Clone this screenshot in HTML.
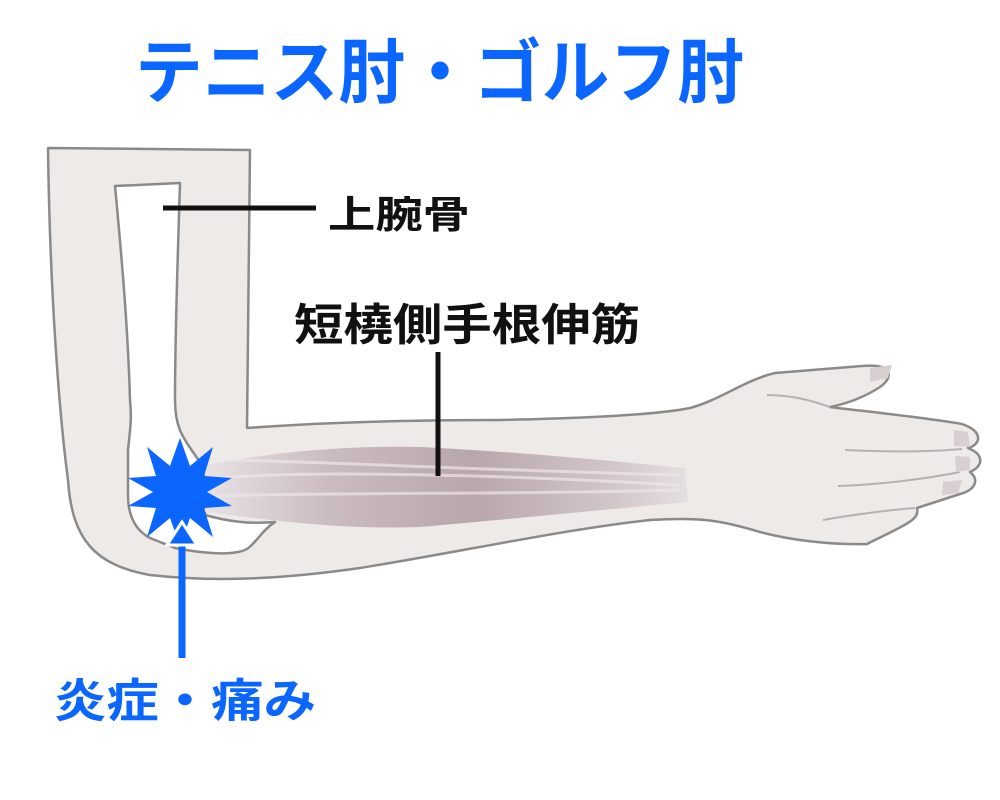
<!DOCTYPE html>
<html><head><meta charset="utf-8"><style>
html,body{margin:0;padding:0;background:#fff;}
svg{display:block;}
text{font-family:"Liberation Sans","Noto Sans CJK JP",sans-serif;font-weight:bold;}
</style></head><body>
<svg width="1000" height="800" viewBox="0 0 1000 800">
<defs>
<linearGradient id="mg" x1="205" y1="0" x2="690" y2="0" gradientUnits="userSpaceOnUse">
<stop offset="0" stop-color="#e8e2e4"/>
<stop offset="0.25" stop-color="#cbbcc2"/>
<stop offset="0.55" stop-color="#b9a6ad"/>
<stop offset="0.85" stop-color="#d3c7cb"/>
<stop offset="1" stop-color="#e6e0e2"/>
</linearGradient>
</defs>
<path d="M48,148 L250,150 L247,428 C300,424 380,420 500,420 C600,418 660,414 690,408 C720,400 745,380 775,373 L862,366 C895,363 893,378 880,387 C860,400 840,405 830,407 C870,412 930,418 962,424 C985,432 980,445 968,448 C985,455 983,466 970,472 C980,480 975,490 960,494 L917,508 C920,520 905,525 867,544 C830,545 790,540 760,532 C720,520 700,517 650,520 C560,530 460,552 360,568 C290,578 220,583 150,575 C95,565 72,540 68,480 C60,420 50,300 48,148 Z" fill="#eeeae8" stroke="#8a8a8a" stroke-width="2.5" stroke-linejoin="round"/>
<path d="M115,186 L180,183 C178,250 175,330 175,400 C175,430 185,440 195,455 L205,470 L205,515 C230,522 250,524 275,522 C262,530 255,545 245,550 C230,556 200,553 175,548 L150,538 C135,530 128,515 128,495 L128,450 C130,430 132,420 130,400 C128,330 122,260 115,186 Z" fill="#ffffff" stroke="#8a8a8a" stroke-width="2.5" stroke-linejoin="round"/>
<path d="M205,465 C260,455 330,445 420,447 C520,452 600,460 685,468 L688,502 C600,510 500,520 420,527 C340,530 270,520 205,512 Z" fill="url(#mg)"/>
<path d="M215,478 C320,470 500,475 680,485 M215,496 C320,492 500,495 680,490 M230,460 C330,462 480,470 680,475" stroke="#eee6e9" stroke-width="3" fill="none" opacity="0.7"/>
<path d="M767,395 C790,395 810,400 830,407" stroke="#b8b0b0" stroke-width="2" fill="none"/>
<path d="M845,450 C890,452 930,452 962,449 M838,486 C880,485 930,478 960,472 M823,520 C850,515 890,510 915,508" stroke="#b8b0b0" stroke-width="2" fill="none"/>
<path d="M870,368 L892,365 L888,378 L870,382 Z M954,430 L968,432 L970,447 L954,446 Z M955,456 L970,457 L970,470 L956,472 Z M943,482 L962,480 L958,493 L942,495 Z" fill="#d8d0d0"/>
<polygon fill="#0a66ff" points="180,438 190,466 213,447 204,476 232,478 207,492 232,506 204,508 213,537 190,518 180,546 170,518 147,537 156,508 128,506 153,492 128,478 156,476 147,447 170,466"/>
<line x1="182" y1="658" x2="182" y2="535" stroke="#0a66ff" stroke-width="7"/>
<polygon points="182,522 167,545 197,545" fill="#0a66ff" stroke="#fff" stroke-width="3"/>
<line x1="163" y1="208" x2="316" y2="208" stroke="#111" stroke-width="5"/>
<line x1="438" y1="352" x2="438" y2="476" stroke="#111" stroke-width="5"/>
<text x="135" y="97" font-size="70" fill="#0a66ff" textLength="610" lengthAdjust="spacingAndGlyphs">テニス肘・ゴルフ肘</text>
<text x="328" y="228" font-size="38" fill="#111" textLength="142" lengthAdjust="spacingAndGlyphs">上腕骨</text>
<text x="294" y="340" font-size="44" fill="#111" textLength="346" lengthAdjust="spacingAndGlyphs">短橈側手根伸筋</text>
<text x="54" y="717" font-size="46" fill="#0a66ff" textLength="262" lengthAdjust="spacingAndGlyphs">炎症・痛み</text>
</svg>
</body></html>
